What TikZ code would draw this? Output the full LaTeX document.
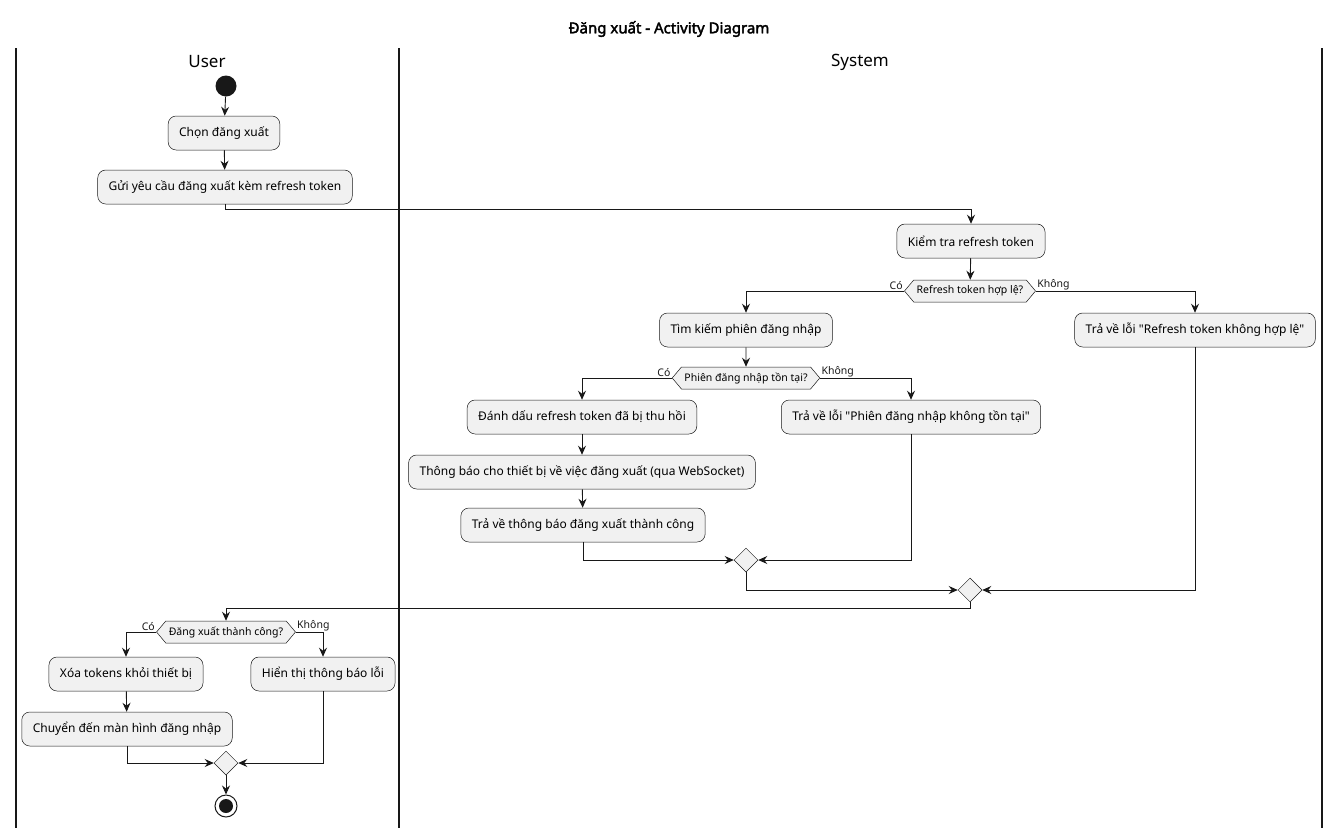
\documentclass[tikz,border=0pt]{standalone}
\usepackage{fontspec}
\setmainfont{Noto Sans}[AutoFakeBold=2.5]
\usepackage{xcolor}
\usetikzlibrary{arrows.meta,positioning,shapes.geometric,shapes.symbols}
\definecolor{actfill}{HTML}{F1F1F1}
\definecolor{actline}{HTML}{181818}
\newcommand{\qt}{\textquotedbl}

\begin{document}
\begin{tikzpicture}[x=1pt, y=-1pt,
    act/.style={draw=actline, fill=actfill, rounded corners=8pt, line width=0.5pt,
      minimum height=34pt, inner xsep=11pt, font=\fontsize{12}{14}\selectfont},
    decide/.style={draw=actline, fill=actfill, signal, signal to=east and west,
      signal pointer angle=100, minimum height=22pt, inner xsep=3pt, inner ysep=2pt,
      line width=0.5pt, font=\fontsize{10.5}{12}\selectfont},
    merge/.style={draw=actline, fill=actfill, diamond, minimum size=24pt, inner sep=0pt, line width=0.5pt},
    flow/.style={-{Stealth[length=9pt, width=8pt, inset=3pt]}, line width=0.9pt, actline},
    lbl/.style={font=\fontsize{10.5}{12}\selectfont, inner sep=1pt},
    lane/.style={line width=1.2pt, actline}]
    \useasboundingbox (0,0) rectangle (1341,828);
    % Title and swimlanes
    \node[font=\fontsize{15}{17}\selectfont\bfseries] (title) at (669,29) {Đăng xuất - Activity Diagram};
    \foreach \x in {16, 399, 1322} {
      \draw[lane] (\x,48) -- (\x,828);
    }
    \node[font=\fontsize{17}{20}\selectfont] (userlane) at (207,62) {User};
    \node[font=\fontsize{17}{20}\selectfont] (syslane) at (860,62) {System};
    % User: start of logout
    \node[circle, fill=actline, minimum size=21pt, inner sep=0pt] (start) at (226,86) {};
    \node[act] (chon) at (224,133) {Chọn đăng xuất};
    \node[act] (gui) at (225,187) {Gửi yêu cầu đăng xuất kèm refresh token};
    % System: check token
    \node[act] (kiemtra) at (971,241) {Kiểm tra refresh token};
    \node[decide] (hople) at (970,291) {Refresh token hợp lệ?};
    \node[act] (timkiem) at (746,330) {Tìm kiếm phiên đăng nhập};
    \node[act] (loitoken) at (1195,330) {Trả về lỗi \qt Refresh token không hợp lệ\qt};
    \node[decide] (tontai) at (746,378) {Phiên đăng nhập tồn tại?};
    \node[act] (danhdau) at (582,417) {Đánh dấu refresh token đã bị thu hồi};
    \node[act] (loiphien) at (911,417) {Trả về lỗi \qt Phiên đăng nhập không tồn tại\qt};
    \node[act] (thongbao) at (582,472) {Thông báo cho thiết bị về việc đăng xuất (qua WebSocket)};
    \node[act] (thanhcong) at (583,525) {Trả về thông báo đăng xuất thành công};
    \node[merge] (gop1) at (746,560) {};
    \node[merge] (gop2) at (970,590) {};
    % User: handle result
    \node[decide] (ketqua) at (226,632) {Đăng xuất thành công?};
    \node[act] (xoa) at (126,674) {Xóa tokens khỏi thiết bị};
    \node[act] (hienthi) at (323,674) {Hiển thị thông báo lỗi};
    \node[act] (chuyen) at (127,729) {Chuyển đến màn hình đăng nhập};
    \node[merge] (gop3) at (226,763) {};
    \node[circle, draw=actline, line width=1pt, fill=white, minimum size=22pt, inner sep=0pt] (stop) at (226,806) {};
    \fill[actline] (stop.center) circle (7pt);
    % Connectors
    \draw[flow] (start) -- (chon);
    \draw[flow] (chon) -- (gui);
    \draw[flow] (gui.south) -- ++(0,5) -| (kiemtra.north);
    \draw[flow] (kiemtra) -- (hople);
    \draw[flow] (hople.west) -| node[lbl, pos=0, above left] (co1) {Có} (timkiem.north);
    \draw[flow] (hople.east) -| node[lbl, pos=0, above right] (khong1) {Không} (loitoken.north);
    \draw[flow] (timkiem) -- (tontai);
    \draw[flow] (tontai.west) -| node[lbl, pos=0, above left] (co2) {Có} (danhdau.north);
    \draw[flow] (tontai.east) -| node[lbl, pos=0, above right] (khong2) {Không} (loiphien.north);
    \draw[flow] (danhdau) -- (thongbao);
    \draw[flow] (thongbao) -- (thanhcong);
    \draw[flow] (thanhcong.south) |- (gop1.west);
    \draw[flow] (loiphien.south) |- (gop1.east);
    \draw[flow] (gop1.south) |- (gop2.west);
    \draw[flow] (loitoken.south) |- (gop2.east);
    \draw[flow] (gop2.south) -- ++(0,6) -| (ketqua.north);
    \draw[flow] (ketqua.west) -| node[lbl, pos=0, above left] (co3) {Có} (xoa.north);
    \draw[flow] (ketqua.east) -| node[lbl, pos=0, above right] (khong3) {Không} (hienthi.north);
    \draw[flow] (xoa) -- (chuyen);
    \draw[flow] (chuyen.south) |- (gop3.west);
    \draw[flow] (hienthi.south) |- (gop3.east);
    \draw[flow] (gop3) -- (stop);
\end{tikzpicture}
\end{document}
